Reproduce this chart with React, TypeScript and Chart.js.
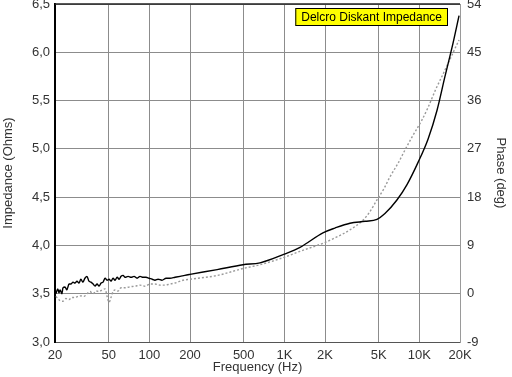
import React, { useEffect, useRef } from "react";
import { Chart, registerables } from "chart.js";

Chart.register(...registerables);

const xTickValues = [20, 50, 100, 200, 500, 1000, 2000, 5000, 10000, 20000];

// Impedance (Ohms) – solid black
const impFreq = [
  20.3, 21.0, 21.4, 21.8, 22.5, 22.9, 23.7, 24.5, 25.4, 26.2, 27.2, 28.1, 29.1, 30.1, 31.1, 32.2,
  33.3, 34.5, 35.7, 36.9, 38.3, 39.6, 41.0, 42.4, 43.9, 45.4, 47.0, 48.6, 50.3, 52.0, 53.8, 55.7,
  57.7, 59.7, 61.7, 63.9, 66.1, 69.6, 73.3, 77.0, 81.1, 85.3, 89.8, 94.5, 99.4, 105, 110, 116,
  124, 133, 142, 155, 169, 183, 200, 318, 494, 660, 1000, 1306, 1930, 2370, 3060, 3960, 4854,
  5560, 6820, 8100, 9780, 11590, 13520, 15480, 17460, 19680,
];
const impValues = [
  3.5, 3.55, 3.51, 3.54, 3.5, 3.56, 3.57, 3.54, 3.6, 3.6, 3.62, 3.61, 3.63, 3.61, 3.65, 3.62,
  3.66, 3.68, 3.63, 3.62, 3.6, 3.58, 3.6, 3.58, 3.61, 3.62, 3.66, 3.64, 3.65, 3.63, 3.66, 3.64,
  3.67, 3.65, 3.68, 3.69, 3.67, 3.68, 3.67, 3.68, 3.66, 3.68, 3.67, 3.67, 3.66, 3.65, 3.64, 3.65,
  3.64, 3.66, 3.66, 3.67, 3.68, 3.69, 3.7, 3.75, 3.8, 3.82, 3.91, 3.98, 4.13, 4.18, 4.23, 4.25, 4.27,
  4.33, 4.47, 4.63, 4.86, 5.1, 5.4, 5.75, 6.05, 6.38,
];

// Phase (deg) – dotted grey
const phaseFreq = [
  20.3, 21.0, 21.8, 22.9, 24.1, 25.4, 26.7, 28.1, 29.6, 31.1, 32.8, 34.5, 36.3, 38.3, 40.3, 42.4,
  44.6, 47.0, 48.6, 50.3, 52.0, 53.8, 55.7, 58.6, 61.7, 66.1, 72.0, 78.3, 85.3, 92.8, 101, 110,
  120, 130, 142, 155, 177, 200, 318, 494, 660, 1000, 1306, 1930, 2370, 3060, 3820, 4310, 4854,
  5470, 6060, 6950, 7830, 8820, 10460, 11590, 13280, 14960, 16870, 18370, 19680,
];
const phaseValues = [
  -0.5, -0.9, -1.3, -1.4, -0.9, -1.1, -0.7, -0.7, -0.5, -0.4, -0.5, 0, 0.4, 0, 0.5, 0.4,
  0.7, 0.9, -0.5, -1.6, -0.7, 0.4, 0.7, 0.5, 1.1, 1.1, 1.3, 1.4, 1.6, 1.4, 1.8, 1.8,
  1.6, 1.6, 1.8, 2.0, 2.5, 2.7, 3.4, 4.7, 5.4, 6.8, 7.9, 9.4, 10.4, 11.9, 13.7, 15.3, 17.5,
  19.6, 21.8, 24.3, 26.8, 29.2, 32.4, 34.7, 38.2, 40.9, 43.7, 45.7, 47.3,
];

const FONT = "'Liberation Sans', Arial, sans-serif";
const TICK_COLOR = "#333333";
const GRID_COLOR = "#8c8c8c";

const boxPlugin = {
  id: "delcroBox",
  afterDraw(chart: any) {
    const { ctx, chartArea } = chart;
    const { left, right, top } = chartArea;
    ctx.save();
    // top border
    ctx.strokeStyle = "#222222";
    ctx.lineWidth = 1.5;
    ctx.beginPath();
    ctx.moveTo(left, top);
    ctx.lineTo(right, top);
    ctx.stroke();
    // legend box
    const text = "Delcro Diskant Impedance";
    ctx.font = `12px ${FONT}`;
    const tw = ctx.measureText(text).width;
    const bw = tw + 12;
    const bh = 18;
    const bx = right - 12 - bw;
    const by = top + 4;
    ctx.fillStyle = "#ffff00";
    ctx.fillRect(bx, by, bw, bh);
    ctx.strokeStyle = "#000000";
    ctx.lineWidth = 1;
    ctx.strokeRect(bx + 0.5, by + 0.5, bw - 1, bh - 1);
    ctx.fillStyle = "#000000";
    ctx.textBaseline = "middle";
    ctx.textAlign = "center";
    ctx.fillText(text, bx + bw / 2, by + bh / 2 + 0.5);
    ctx.restore();
  },
};

function fmtFreq(v: number) {
  return v >= 1000 ? `${v / 1000}K` : `${v}`;
}

export default function App() {
  const ref = useRef<HTMLCanvasElement | null>(null);

  useEffect(() => {
    if (!ref.current) return;
    const chart = new Chart(ref.current, {
      type: "line",
      data: {
        datasets: [
          {
            label: "Impedance",
            data: impFreq.map((f, i) => ({ x: f, y: impValues[i] })),
            borderColor: "#000000",
            borderWidth: 1.4,
            pointRadius: 0,
            fill: false,
            cubicInterpolationMode: "monotone",
            yAxisID: "y",
          },
          {
            label: "Phase",
            data: phaseFreq.map((f, i) => ({ x: f, y: phaseValues[i] })),
            borderColor: "#9a9a9a",
            borderWidth: 1.4,
            borderDash: [2, 2],
            pointRadius: 0,
            fill: false,
            cubicInterpolationMode: "monotone",
            yAxisID: "y1",
          },
        ],
      },
      options: {
        animation: false,
        responsive: false,
        maintainAspectRatio: false,
        layout: { padding: { top: 4, left: 0, right: 0, bottom: 0 } },
        plugins: {
          legend: { display: false },
          tooltip: { enabled: false },
        },
        scales: {
          x: {
            type: "logarithmic",
            min: 20,
            max: 20000,
            afterBuildTicks: (scale: any) => {
              scale.ticks = xTickValues.map((v) => ({ value: v }));
            },
            afterFit: (scale: any) => {
              scale.height = 35;
              scale.paddingLeft = 0;
              scale.paddingRight = 0;
            },
            grid: { color: GRID_COLOR, drawTicks: false, lineWidth: 1 },
            border: { color: "#555555", width: 1 },
            ticks: {
              autoSkip: false,
              maxRotation: 0,
              padding: 6,
              color: TICK_COLOR,
              font: { family: FONT, size: 13 },
              callback: (v: any) => fmtFreq(Number(v)),
            },
            title: {
              display: true,
              text: "Frequency (Hz)",
              color: TICK_COLOR,
              font: { family: FONT, size: 13 },
              padding: { top: 0, bottom: 2 },
            },
          },
          y: {
            type: "linear",
            position: "left",
            min: 3,
            max: 6.5,
            afterFit: (scale: any) => {
              scale.width = 55;
              scale.paddingTop = 0;
              scale.paddingBottom = 0;
            },
            grid: { color: GRID_COLOR, drawTicks: false, lineWidth: 1 },
            border: { color: "#000000", width: 2 },
            ticks: {
              stepSize: 0.5,
              padding: 5,
              color: TICK_COLOR,
              font: { family: FONT, size: 13 },
              callback: (v: any) => Number(v).toFixed(1).replace(".", ","),
            },
            title: {
              display: true,
              text: "Impedance (Ohms)",
              color: TICK_COLOR,
              font: { family: FONT, size: 13 },
              padding: { top: 1, bottom: 0 },
            },
          },
          y1: {
            type: "linear",
            position: "right",
            min: -9,
            max: 54,
            afterFit: (scale: any) => {
              scale.width = 52;
              scale.paddingTop = 0;
              scale.paddingBottom = 0;
            },
            grid: { drawOnChartArea: false, drawTicks: false },
            border: { color: "#9a9a9a", width: 1 },
            ticks: {
              stepSize: 9,
              padding: 7,
              color: TICK_COLOR,
              font: { family: FONT, size: 13 },
            },
            title: {
              display: true,
              text: "Phase (deg)",
              color: TICK_COLOR,
              font: { family: FONT, size: 13 },
              padding: { top: 4, bottom: 0 },
            },
          },
        },
      },
      plugins: [boxPlugin],
    } as any);
    return () => chart.destroy();
  }, []);

  return (
    <div style={{ position: "fixed", left: 0, top: 0, width: 512, height: 377, background: "#ffffff" }}>
      <canvas ref={ref} width={512} height={377} style={{ display: "block", width: 512, height: 377 }} />
    </div>
  );
}
